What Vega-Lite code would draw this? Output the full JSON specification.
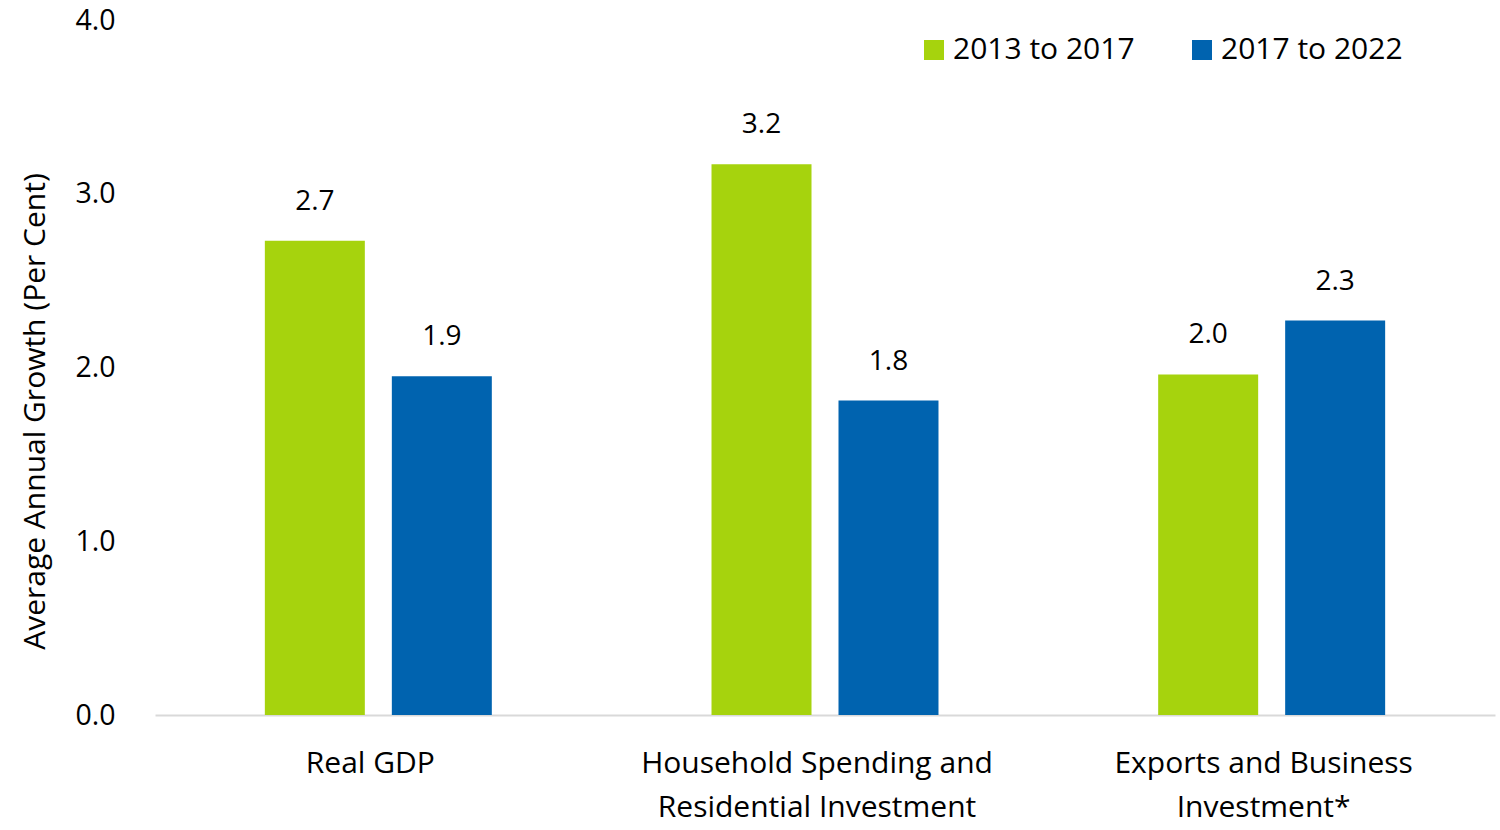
{
  "$schema": "https://vega.github.io/schema/vega-lite/v6.json",
  "width": 1340,
  "height": 695,
  "autosize": {"type": "none"},
  "padding": {"left": 155, "top": 20, "right": 5, "bottom": 115},
  "background": "white",
  "config": {
    "view": {"stroke": null},
    "font": "Open Sans",
    "axis": {"labelFont": "Open Sans", "titleFont": "Open Sans", "labelColor": "#000000", "titleColor": "#000000"}
  },
  "data": {
    "values": [
      {"category": "Real GDP", "period": "2013 to 2017", "value": 2.73, "label": "2.7"},
      {"category": "Real GDP", "period": "2017 to 2022", "value": 1.95, "label": "1.9"},
      {"category": "Household Spending and|Residential Investment", "period": "2013 to 2017", "value": 3.17, "label": "3.2"},
      {"category": "Household Spending and|Residential Investment", "period": "2017 to 2022", "value": 1.81, "label": "1.8"},
      {"category": "Exports and Business|Investment*", "period": "2013 to 2017", "value": 1.96, "label": "2.0"},
      {"category": "Exports and Business|Investment*", "period": "2017 to 2022", "value": 2.27, "label": "2.3"}
    ]
  },
  "encoding": {
    "x": {
      "field": "category",
      "type": "nominal",
      "sort": null,
      "scale": {"paddingInner": 0, "paddingOuter": 0},
      "axis": {
        "title": null,
        "labelAngle": 0,
        "labelExpr": "split(datum.value, '|')",
        "labelFontSize": 30,
        "labelLineHeight": 44,
        "labelPadding": 33,
        "labelBaseline": "top",
        "labelLimit": 1000,
        "labelOffset": -8,
        "ticks": false,
        "domainColor": "#D9D9D9",
        "domainWidth": 2,
        "grid": false
      }
    },
    "xOffset": {
      "field": "period",
      "type": "nominal",
      "scale": {"paddingInner": 0.2126, "paddingOuter": 0.865}
    },
    "y": {
      "field": "value",
      "type": "quantitative",
      "scale": {"domain": [0, 4], "nice": false},
      "axis": {
        "title": "Average Annual Growth (Per Cent)",
        "titleFontSize": 30,
        "titleFontWeight": "normal",
        "titlePadding": 24,
        "titleY": 391,
        "values": [0, 1, 2, 3, 4],
        "format": ".1f",
        "labelFontSize": 28.5,
        "labelPadding": 40,
        "ticks": false,
        "domain": false,
        "grid": false
      }
    }
  },
  "layer": [
    {
      "mark": {"type": "bar"},
      "encoding": {
        "color": {
          "field": "period",
          "type": "nominal",
          "scale": {"domain": ["2013 to 2017", "2017 to 2022"], "range": ["#A6D30D", "#0063AF"]},
          "legend": {
            "title": null,
            "orient": "none",
            "direction": "horizontal",
            "legendX": 764,
            "legendY": 15,
            "symbolType": "square",
            "symbolSize": 400,
            "symbolStrokeWidth": 0,
            "labelFontSize": 30,
            "labelFont": "Open Sans",
            "labelColor": "#000000",
            "labelLimit": 1000,
            "columnPadding": 52,
            "labelOffset": 4
          }
        }
      }
    },
    {
      "mark": {"type": "text", "baseline": "bottom", "dy": -25, "fontSize": 28, "color": "#000000"},
      "encoding": {"text": {"field": "label"}}
    }
  ]
}
